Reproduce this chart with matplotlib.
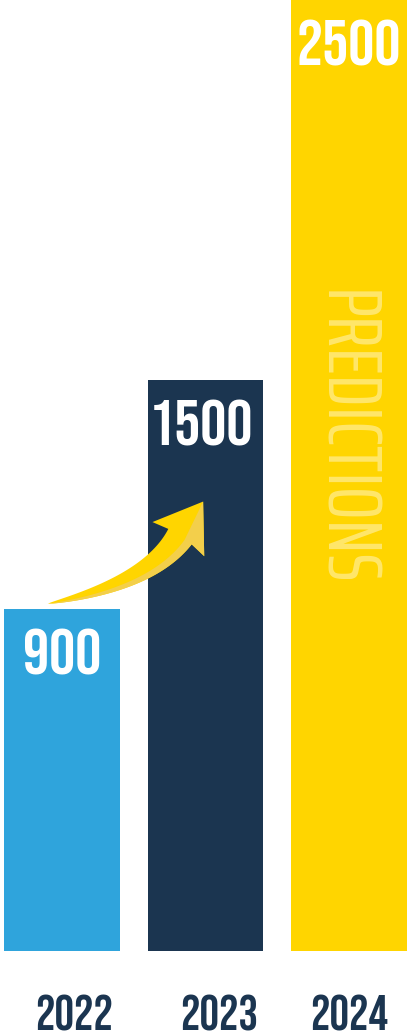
import matplotlib
matplotlib.use("Agg")
import numpy as np
import matplotlib.pyplot as plt
from matplotlib.patches import Polygon
from matplotlib.transforms import IdentityTransform

years = ["2022", "2023", "2024"]
values = [900, 1500, 2500]
value_labels = ["900", "1500", "2500"]
bar_colors = ["#2fa4dc", "#1b3550", "#ffd500"]
note_text = "PREDICTIONS"

NUMFONT = ["Bebas Neue", "Oswald", "DejaVu Sans"]
THINFONT = ["Saira ExtraCondensed", "Oswald", "DejaVu Sans"]

fig = plt.figure(figsize=(4.08, 10.33), dpi=100)
ax = fig.add_axes([0, 0, 1, 1])
ax.set_axis_off()

xpos = list(range(len(years)))
ax.bar(xpos, values, width=0.808, color=bar_colors, zorder=2)
ax.set_xlim(-0.432, 2.411)
ax.set_ylim(-215.6, 2500)

value_dx = [0, -5, 0]
for x, v, lab, dx in zip(xpos, values, value_labels, value_dx):
    ax.annotate(lab, (x, v), xytext=(dx, -20), textcoords="offset pixels",
                ha="center", va="top", color="white", fontsize=47,
                family=NUMFONT, zorder=4)

year_dx = [12, 14, 0]
for x, y, dx in zip(xpos, years, year_dx):
    ax.annotate(y, (x, 0), xytext=(dx, -80), textcoords="offset pixels",
                ha="center", va="baseline", color="#1b3550", fontsize=35,
                family=NUMFONT, annotation_clip=False)

ax.annotate(note_text, (2, values[2]), xytext=(-5, -438), textcoords="offset pixels",
            ha="center", va="center", rotation=270, color="white", alpha=0.42,
            fontsize=56, fontweight=400, family=THINFONT, zorder=4)

# decorative two-tone growth arrow, anchored to the top of the first bar
A = ax.transData.transform((xpos[0], values[0]))
P0 = A + np.array([-14.0, 5.0])
P1 = P0 + np.array([101.0, 20.0])
P2 = P0 + np.array([132.0, 67.0])
t = np.linspace(0, 1, 80)[:, None]
B = (1 - t) ** 2 * P0 + 2 * (1 - t) * t * P1 + t ** 2 * P2
D = 2 * (1 - t) * (P1 - P0) + 2 * t * (P2 - P1)
D = D / np.linalg.norm(D, axis=1, keepdims=True)
N = np.column_stack([-D[:, 1], D[:, 0]])
W = 28.0 * t ** 0.75
upper = B + N * W / 2
lower = B - N * W / 2
divider = B - N * W * 0.2
d_end, n_end = D[-1], N[-1]
tip = P2 + d_end * 42
lbarb = P2 + n_end * 31 - d_end * 3
rbarb = P2 - n_end * 31 - d_end * 3
gold = np.vstack([upper, [lbarb, tip, rbarb], lower[::-1]])
light = np.vstack([divider, [tip, rbarb], lower[::-1]])
ax.add_patch(Polygon(gold, closed=True, transform=IdentityTransform(),
                     facecolor="#ffd500", edgecolor="none", zorder=5))
ax.add_patch(Polygon(light, closed=True, transform=IdentityTransform(),
                     facecolor="#f3cf4b", edgecolor="none", zorder=6))

fig.savefig("out.png", dpi=100, facecolor="white")
